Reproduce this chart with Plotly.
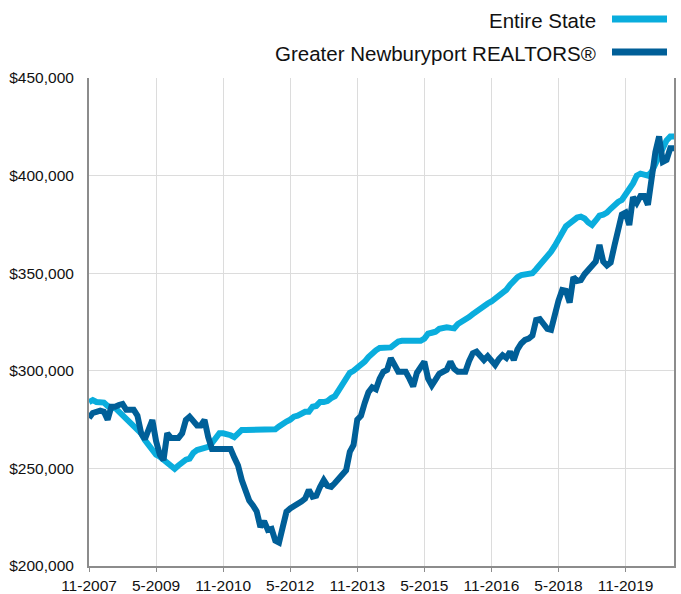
import plotly.graph_objects as go

# Monthly months 11-2007 .. 12-2020
months = []
y, m = 2007, 11
while (y, m) <= (2020, 12):
    months.append(f"{m}-{y}")
    m += 1
    if m > 12:
        m = 1
        y += 1

tick_labels = ["11-2007", "5-2009", "11-2010", "5-2012", "11-2013",
               "5-2015", "11-2016", "5-2018", "11-2019"]

# values in $ thousands
entire_state = [
    284, 285, 284, 283.5, 283.7, 282, 281, 281, 279, 277, 275, 274,
    272, 270, 268, 264.5, 262, 259, 257, 256, 254.5, 252.5, 250.8, 249.8,
    251.5, 253.5, 254.5, 255, 258, 259.4, 260, 260, 261, 263, 265.5, 268,
    268, 267.6, 267, 266, 268, 269.7, 269.7, 269.7, 269.7, 269.7, 269.7, 269.7,
    269.7, 269.7, 270, 271.5, 273, 274, 275, 276.5, 277, 278, 279, 279,
    281.6, 282, 284, 284, 284.5, 286, 287, 290, 293, 296, 299, 300,
    301.4, 303, 304.7, 307, 309, 310.5, 311.7, 312, 312, 312, 313.5, 315,
    315.4, 315.4, 315.4, 315.4, 315.4, 315.4, 316.5, 319, 319.5, 320, 321.5, 322.3,
    322.3, 322, 321.8, 324, 325, 326, 327.5, 329, 330.5, 332, 333, 334.5,
    335.5, 337, 339, 340, 341.5, 344, 346.5, 348, 349, 349.6, 350, 350,
    352, 354, 356, 358, 361, 364, 367, 370, 374, 375.5, 377, 378.5,
    379, 378, 376, 374.7, 377, 379.5, 380, 381, 383, 385, 386.5, 387.5,
    390, 392.6, 396, 400, 401, 400.5, 400, 402, 406, 411, 415, 418,
    420, 420,
]

newburyport = [
    275.8, 278.4, 279, 279.6, 279, 275, 281.6, 281.6, 282.5, 283, 280, 280,
    280, 277, 268, 265, 271, 274.8, 264, 257, 254.3, 268, 265.6, 265.6,
    265.6, 268, 274.8, 276.5, 274.5, 272, 272, 274.8, 266, 260, 260, 260,
    260, 260, 260, 255.5, 251.5, 244, 238, 233.5, 231, 228, 220, 223,
    218.5, 219, 213, 212, 220, 227.8, 229.5, 230.5, 232, 233, 234.5, 239,
    235.5, 236, 240.5, 244, 241, 240.5, 242.5, 244.5, 246, 249, 258.5, 262,
    275, 277, 283.5, 289, 291.5, 290.5, 296, 299.5, 300.5, 306.5, 303, 299.5,
    299.5, 299.5, 296, 292, 299, 302, 304.7, 296, 292.5, 295.5, 298.5, 299.5,
    300.5, 304.7, 301, 299.5, 299.5, 299.5, 305, 309, 309.8, 308, 305.5, 307.5,
    305, 303, 306, 308, 306.6, 309.8, 305.5, 311, 314, 315.8, 316.5, 318,
    326, 326.5, 324, 321.5, 321, 329, 336, 341.4, 341, 335, 348, 346,
    346.5, 349.5, 351.6, 354, 356, 364.5, 356, 354, 355.5, 364, 374, 380,
    381, 374.7, 389, 386, 389.5, 389.5, 385, 400, 412, 420, 407, 408,
    414, 414,
]

LIGHT = "#0AADDD"
DARK = "#005F98"
FONT = "Liberation Sans, Arial, sans-serif"

W, H = 681, 594
ML, MR, MT, MB = 89, 7, 78, 28
PW, PH = W - ML - MR, H - MT - MB


def px_x(xp):
    return (xp - ML) / PW


def px_y(yp):
    return (H - MB - yp) / PH


fig = go.Figure()
fig.add_trace(go.Scatter(x=months, y=[v * 1000 for v in entire_state],
                         mode="lines", name="Entire State",
                         line=dict(color=LIGHT, width=6),
                         showlegend=False))
fig.add_trace(go.Scatter(x=months, y=[v * 1000 for v in newburyport],
                         mode="lines", name="Greater Newburyport REALTORS®",
                         line=dict(color=DARK, width=6),
                         showlegend=False))

fig.update_layout(
    width=W, height=H,
    margin=dict(l=ML, r=MR, t=MT, b=MB),
    paper_bgcolor="white", plot_bgcolor="white",
    font=dict(family=FONT, size=15.5, color="#111"),
    xaxis=dict(
        type="category", range=[0, len(months) - 1], automargin=False,
        tickmode="array", tickvals=tick_labels, ticktext=tick_labels,
        showgrid=True, gridcolor="#dcdcdc", gridwidth=1,
        showline=True, linecolor="#8c8c8c", linewidth=2,
        ticks="outside", ticklen=4, tickcolor="#8c8c8c",
        tickfont=dict(size=15.5, color="#111"),
        zeroline=False,
    ),
    yaxis=dict(
        range=[200000, 450000], automargin=False,
        tickmode="array", tickvals=[200000, 250000, 300000, 350000, 400000, 450000],
        tickformat="$,.0f",
        showgrid=True, gridcolor="#dcdcdc", gridwidth=1,
        showline=True, linecolor="#8c8c8c", linewidth=2, mirror=True,
        ticks="", ticklabelstandoff=10,
        tickfont=dict(size=15.5, color="#111"),
        zeroline=False,
    ),
)

# Legend drawn as text + swatches (swatch on the right of the label)
legend_items = [("Entire State", LIGHT, 21), ("Greater Newburyport REALTORS®", DARK, 54)]
for label, color, ypx in legend_items:
    fig.add_annotation(xref="paper", yref="paper", x=px_x(598), y=px_y(ypx),
                       xanchor="right", yanchor="middle",
                       text=label, showarrow=False,
                       font=dict(family=FONT, size=20.5, color="#111"))
    fig.add_shape(type="line", xref="paper", yref="paper",
                  x0=px_x(612), x1=px_x(667), y0=px_y(ypx - 2), y1=px_y(ypx - 2),
                  line=dict(color=color, width=7), layer="above")

fig.write_html("out.html",
               config={"displayModeBar": False, "staticPlot": True},
               post_script="document.body.style.margin='0px';"
                           "document.body.style.overflow='hidden';")
